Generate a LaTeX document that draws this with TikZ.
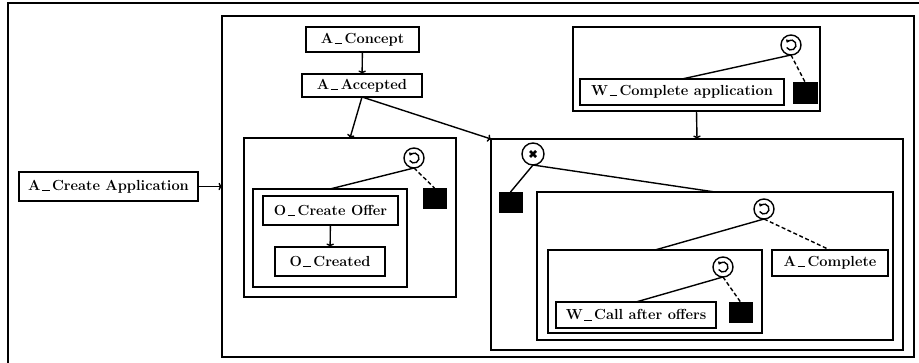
\documentclass[tikz,border=0pt]{standalone}
\usepackage{fontspec}
\usetikzlibrary{arrows.meta}

% spaced underscore used in the activity names
\newcommand{\usc}{\kern1.5pt\rule[-0.6pt]{7.5pt}{0.9pt}\kern2.5pt}

\tikzset{
  x=1pt, y=1pt,
  every node/.style={inner sep=0pt, outer sep=0pt},
  frame/.style={draw, line width=1.4pt},
  task/.style={frame, font=\fontsize{14.6}{17}\selectfont\bfseries, align=center},
  box/.style={frame},
  blk/.style={fill=black, draw=black, line width=0.6pt},
  link/.style={line width=1.4pt},
  dlink/.style={line width=1.4pt, dash pattern=on 4pt off 2.5pt},
  arr/.style={line width=1.4pt, -{To[length=3.5pt,width=7.5pt]}},
  loopop/.style={circle, frame, minimum size=20pt,
    path picture={
      \draw[line width=1.4pt, -{Straight Barb[length=1.6pt,width=3pt]}]
        ([shift={(-150:5pt)}]path picture bounding box.center)
        arc[start angle=-150, end angle=150, radius=5pt];
    }},
  xorop/.style={circle, frame, minimum size=22pt,
    path picture={
      \draw[line width=2.6pt]
        ([shift={(-3pt,-3pt)}]path picture bounding box.center) --
        ([shift={(3pt,3pt)}]path picture bounding box.center)
        ([shift={(-3pt,3pt)}]path picture bounding box.center) --
        ([shift={(3pt,-3pt)}]path picture bounding box.center);
    }},
}

\begin{document}
\begin{tikzpicture}
\useasboundingbox (0,0) rectangle (919,-362);
\clip (0,0) rectangle (919,-362);

% outermost frame (runs off the page on the right and at the bottom)
\draw[line width=1.4pt] (8,-380) -- (8,-3) -- (940,-3);

% main sequence container
\node[box, minimum width=692pt, minimum height=341pt] (main) at (568,-186.5) {};
\node[task, minimum width=179pt, minimum height=29pt] (createapp) at (108.5,-186.5) {A\usc Create Application};
\draw[arr] (createapp) -- (main.west);

% first steps
\node[task, minimum width=113pt, minimum height=25pt] (concept) at (362.5,-39.5) {A\usc Concept};
\node[task, minimum width=120pt, minimum height=23pt] (accepted) at (362,-85.5) {A\usc Accepted};
\draw[arr] (concept) -- (accepted);

% offer loop
\node[box, minimum width=212pt, minimum height=159pt] (leftloop) at (350,-217.5) {};
\node[loopop] (loop1) at (414,-158) {};
\node[box, minimum width=154pt, minimum height=98pt] (offerbox) at (330,-238) {};
\node[task, minimum width=135pt, minimum height=29pt] (createoffer) at (330.5,-210.5) {O\usc Create Offer};
\node[task, minimum width=110pt, minimum height=29pt] (created) at (330,-261.5) {O\usc Created};
\node[blk, minimum width=23pt, minimum height=20pt] (sq1) at (434.5,-198) {};
\draw[arr] (createoffer) -- (created);
\draw[link] (loop1.south) -- (offerbox.north);
\draw[dlink] (loop1.south) -- (sq1.north);

% completion loop
\node[box, minimum width=247pt, minimum height=84pt] (topright) at (696.5,-69) {};
\node[loopop] (loop2) at (791,-45) {};
\node[task, minimum width=204pt, minimum height=26pt] (wcomplete) at (682,-92) {W\usc Complete application};
\node[blk, minimum width=24pt, minimum height=21pt] (sq2) at (805,-92.5) {};
\draw[link] (loop2.south) -- (wcomplete.north);
\draw[dlink] (loop2.south) -- (sq2.north);

% exclusive choice block
\node[box, minimum width=412pt, minimum height=211pt] (rightbox) at (697,-244.5) {};
\node[xorop] (xor) at (533,-154) {};
\node[blk, minimum width=23pt, minimum height=20pt] (sq3) at (510.5,-202) {};
\node[box, minimum width=356pt, minimum height=148pt] (innerA) at (715,-266) {};
\draw[link] (xor.south) -- (sq3.north);
\draw[link] (xor.south) -- (innerA.north);

\node[loopop] (loop3) at (764,-209) {};
\node[box, minimum width=214pt, minimum height=83pt] (innerB) at (655,-291.5) {};
\node[task, minimum width=116pt, minimum height=26pt] (acomplete) at (830,-263) {A\usc Complete};
\draw[link] (loop3.south) -- (innerB.north);
\draw[dlink] (loop3.south) -- (acomplete.north);

\node[loopop] (loop4) at (723,-267) {};
\node[task, minimum width=160pt, minimum height=26pt] (wcall) at (636,-315) {W\usc Call after offers};
\node[blk, minimum width=23pt, minimum height=20pt] (sq4) at (740.5,-312) {};
\draw[link] (loop4.south) -- (wcall.north);
\draw[dlink] (loop4.south) -- (sq4.north);

% flow between blocks
\draw[arr] (accepted.south) -- (leftloop.north);
\draw[arr] (accepted.south) -- (rightbox.north west);
\draw[arr] (topright.south) -- (rightbox.north);

\end{tikzpicture}
\end{document}
